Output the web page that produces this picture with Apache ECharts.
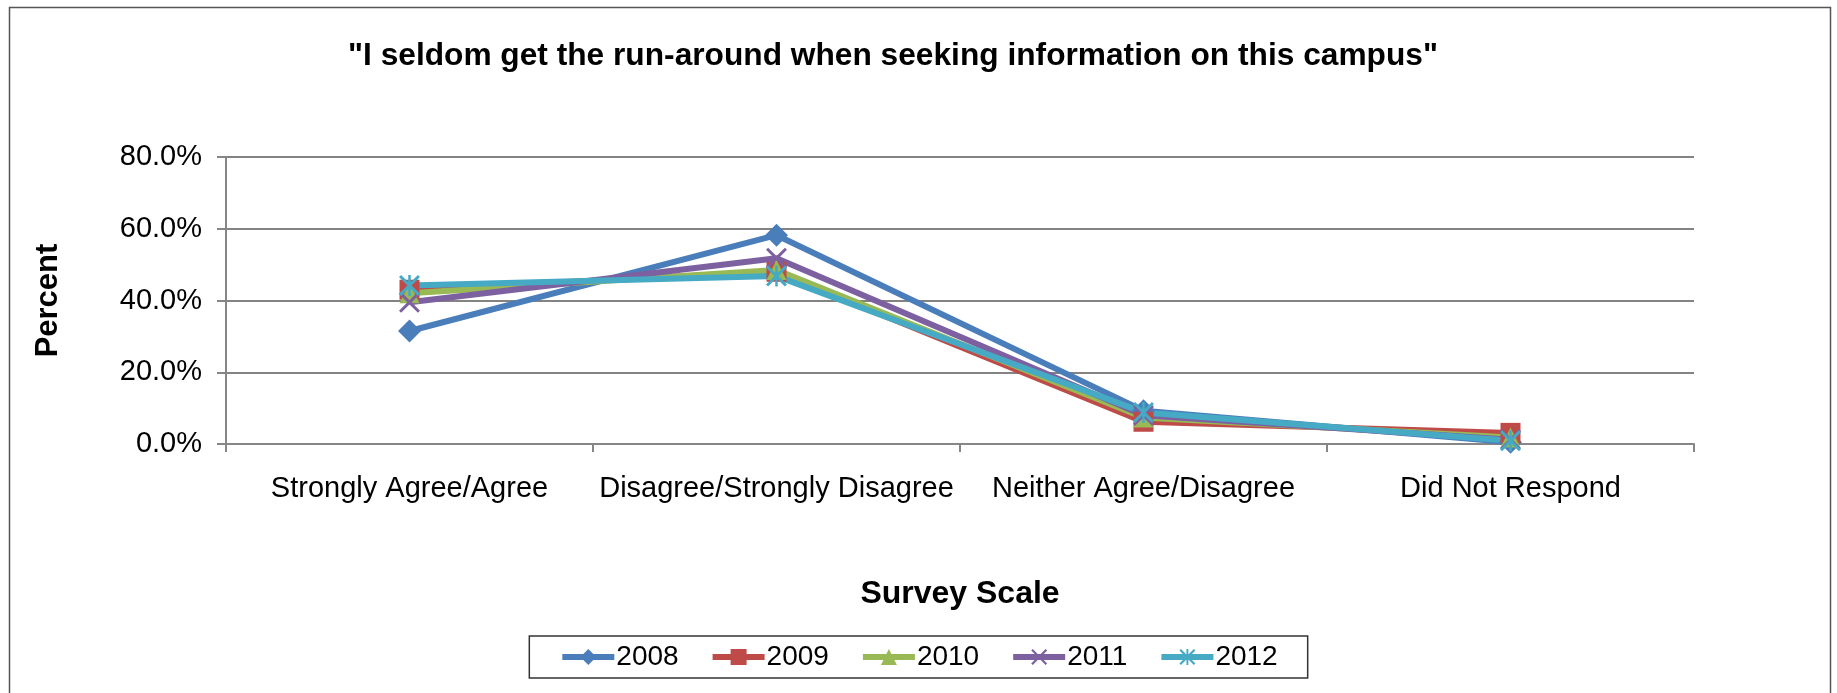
<!DOCTYPE html>
<html>
<head>
<meta charset="utf-8">
<script src="https://cdn.jsdelivr.net/npm/echarts@6/dist/echarts.min.js"></script>
<style>
html, body { margin: 0; padding: 0; background: #fff; }
#main { width: 1837px; height: 693px; }
</style>
</head>
<body>
<div id="main"></div>
<script>
// survey data, percent
const categories = ["Strongly Agree/Agree", "Disagree/Strongly Disagree", "Neither Agree/Disagree", "Did Not Respond"];
const years = ["2008", "2009", "2010", "2011", "2012"];
const v2008 = [31.5, 58.2, 9.3, 0.5];
const v2009 = [43.0, 48.0, 6.2, 3.1];
const v2010 = [42.0, 48.5, 7.4, 1.8];
const v2011 = [39.5, 51.8, 8.0, 1.2];
const v2012 = [44.2, 46.8, 8.8, 0.9];
const yTicks = { min: 0, max: 80, interval: 20 };

const font = '"Liberation Sans", Arial, sans-serif';
const colors = ["#4A7EBB", "#BE4B48", "#98B954", "#7D60A0", "#46AAC5"];

// marker shapes like excel
const crossPath = "path://M0,1 L1,0 L5,4 L9,0 L10,1 L6,5 L10,9 L9,10 L5,6 L1,10 L0,9 L4,5 Z";
const starPath = "path://M0,1 L1,0 L5,4 L9,0 L10,1 L6,5 L10,9 L9,10 L5,6 L1,10 L0,9 L4,5 Z M4.4,0 L5.6,0 L5.6,10 L4.4,10 Z";
const symbols = ["diamond", "rect", "triangle", crossPath, starPath];
const symbolSizes = [23, 20, 20, 21, 21];
const values = [v2008, v2009, v2010, v2011, v2012];

const chart = echarts.init(document.getElementById("main"));

const series = years.map((y, i) => ({
	name: y,
	type: "line",
	data: values[i],
	symbol: symbols[i],
	symbolSize: symbolSizes[i],
	showAllSymbol: true,
	lineStyle: { width: 6, color: colors[i] },
	itemStyle: { color: colors[i] },
	emphasis: { disabled: true },
	animation: false
}));

chart.setOption({
	animation: false,
	color: colors,
	graphic: [{
		type: "rect",
		shape: { x: 9.5, y: 7.5, width: 1821, height: 700 },
		style: { fill: "none", stroke: "#555", lineWidth: 1.5 },
		silent: true
	}],
	title: {
		text: "\"I seldom get the run-around when seeking information on this campus\"",
		left: 348,
		top: 40,
		padding: 0,
		textStyle: { fontFamily: font, fontSize: 31.7, fontWeight: "bold", color: "#000" }
	},
	legend: {
		data: years,
		left: "center",
		top: 636,
		padding: [7, 30, 7, 30],
		itemGap: 31,
		itemWidth: 52,
		itemHeight: 20,
		borderColor: "#333",
		borderWidth: 1.5,
		lineStyle: { width: 6 },
		textStyle: { fontFamily: font, fontSize: 28, color: "#000", padding: [0, 0, 0, -3] }
	},
	grid: { left: 226, right: 143, top: 157, bottom: 249, containLabel: false },
	xAxis: {
		type: "category",
		data: categories,
		boundaryGap: true,
		name: "Survey Scale",
		nameLocation: "middle",
		nameGap: 134,
		nameTextStyle: { fontFamily: font, fontSize: 32, fontWeight: "bold", color: "#000" },
		axisLine: { lineStyle: { color: "#868686", width: 2 } },
		axisTick: { show: true, length: 8, lineStyle: { color: "#868686", width: 2 } },
		axisLabel: { fontFamily: font, fontSize: 29, color: "#000", margin: 30, interval: 0 }
	},
	yAxis: {
		type: "value",
		min: yTicks.min,
		max: yTicks.max,
		interval: yTicks.interval,
		name: "Percent",
		nameLocation: "middle",
		nameRotate: 90,
		nameGap: 162,
		nameTextStyle: { fontFamily: font, fontSize: 31, fontWeight: "bold", color: "#000" },
		axisLine: { show: true, lineStyle: { color: "#868686", width: 2 } },
		axisTick: { show: true, length: 9, lineStyle: { color: "#868686", width: 2 } },
		axisLabel: {
			fontFamily: font, fontSize: 29, color: "#000", margin: 24,
			formatter: v => v.toFixed(1) + "%"
		},
		splitLine: { lineStyle: { color: "#5a5a5a", width: 1.5 } }
	},
	series: series
});
</script>
</body>
</html>
